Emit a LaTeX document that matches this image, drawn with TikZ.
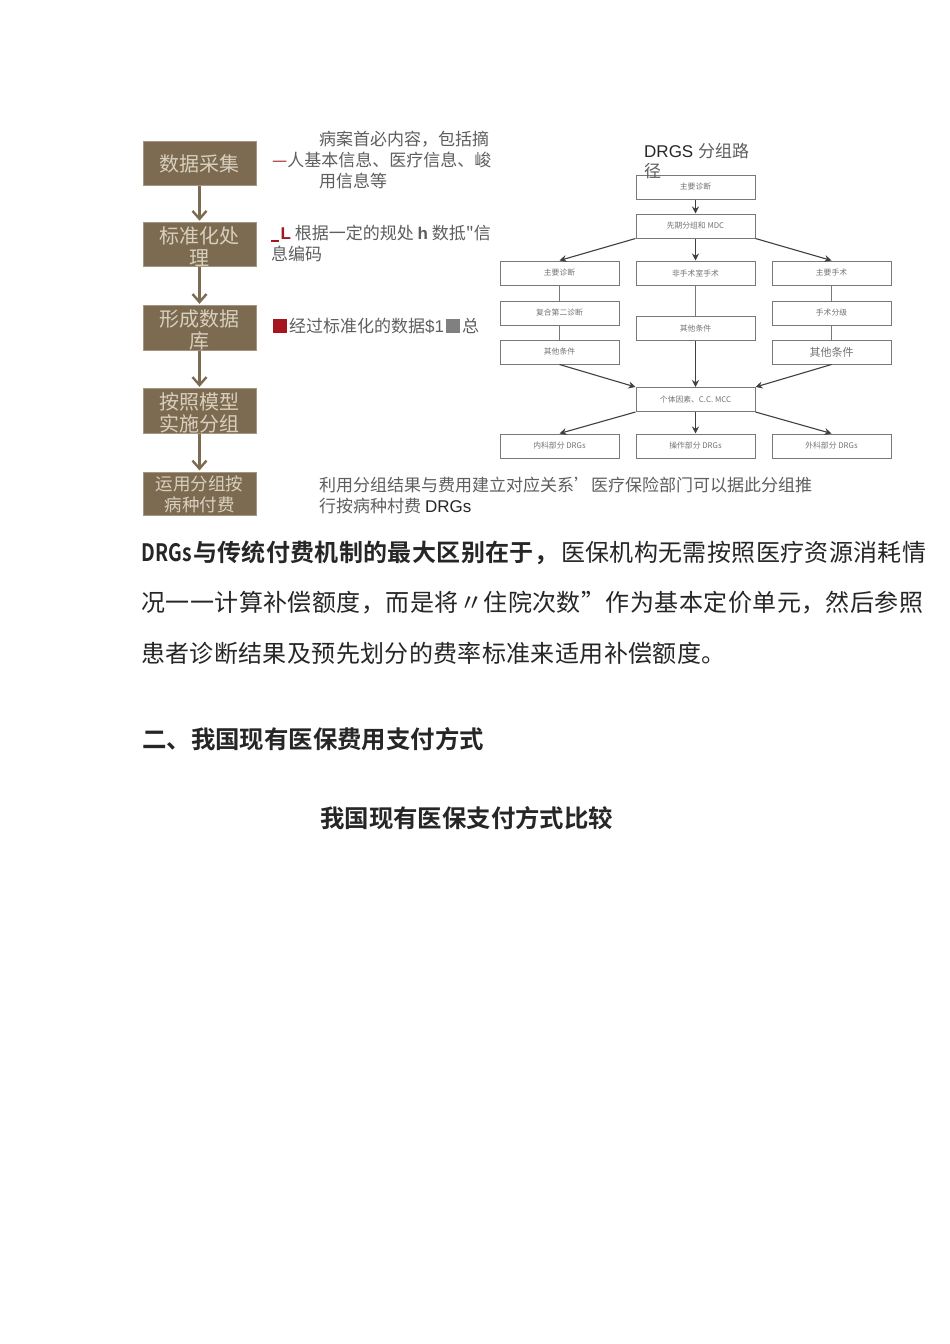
\documentclass[tikz,border=0pt]{standalone}
\usepackage{fontspec}
\usetikzlibrary{arrows.meta}
\setmainfont{Liberation Sans}
\newfontfamily\cjk{Noto Sans CJK SC}
\newfontfamily\cjkb{Noto Sans CJK SC Bold}
\newfontfamily\cjkbody[LetterSpace=1.5]{Noto Sans CJK SC}
\newfontfamily\cjkbodyb[LetterSpace=1.9]{Noto Sans CJK SC}
\newfontfamily\cjkbbody[LetterSpace=1.5]{Noto Sans CJK SC Bold}
\newcommand{\dropline}{\rule{0pt}{21pt}}
\definecolor{brownbox}{HTML}{7C6B50}
\definecolor{boxtext}{HTML}{D8CFBE}
\definecolor{labelgrey}{HTML}{5E5E5E}
\definecolor{darkred}{HTML}{A5161E}
\definecolor{flowline}{HTML}{787878}
\tikzset{
 x=1pt,y=-1pt,
 flowbox/.style={fill=brownbox,draw=brownbox!70!white,line width=0.6pt,minimum width=113pt,minimum height=43.5pt,inner sep=0pt,align=center,text=boxtext,font=\cjk\fontsize{20}{22}\selectfont},
 flowarrow/.style={draw=brownbox,line width=2.2pt,shorten >=1.5pt,-{Straight Barb[length=8pt,width=14pt,line width=2.4pt]}},
 pathbox/.style={draw=flowline,line width=1pt,fill=white,minimum width=119pt,minimum height=24pt,inner sep=0pt,text=black!55,font=\cjk\fontsize{7.8}{9}\selectfont},
 patharrow/.style={draw=black!75,line width=1.1pt,-{Stealth[length=7pt,width=7pt]}},
 pathline/.style={draw=flowline,line width=0.9pt},
 lab/.style={anchor=west,inner sep=0pt,text=labelgrey,font=\cjk\fontsize{17}{20}\selectfont},
 body/.style={anchor=west,inner sep=0pt,text=black!85,font=\cjkbody\fontsize{24}{28}\selectfont},
 head/.style={anchor=west,inner sep=0pt,text=black!85,font=\cjkb\fontsize{24.4}{28}\selectfont},
}
\begin{document}
\begin{tikzpicture}
\useasboundingbox[fill=white] (0,0) rectangle (950,1344);
% left flow
\node[flowbox] (a1) at (199.5,163.5) {数据采集};
\node[flowbox] (a2) at (199.5,244.5) {\dropline 标准化处\\理};
\node[flowbox] (a3) at (199.5,328) {\dropline 形成数据\\库};
\node[flowbox] (a4) at (199.5,411) {\dropline 按照模型\\实施分组};
\node[flowbox,font=\cjk\fontsize{17.5}{21}\selectfont] (a5) at (199.5,494) {运用分组按\\病种付费};
\foreach \p/\q in {a1/a2,a2/a3,a3/a4,a4/a5} \draw[flowarrow] (\p) -- (\q);
% left labels
\node[lab] (l1) at (319,139.5) {病案首必内容，包括摘};
\node[lab] (l2) at (272,160) {\textcolor{darkred}{—}人基本信息、医疗信息、峻};
\node[lab] (l3) at (319,180.5) {用信息等};
\node[lab] (l4) at (271,233.5) {\textcolor{darkred}{\rule[-2pt]{8pt}{1.4pt}\hspace{1.5pt}{\fontspec{Liberation Sans}\textbf{L}}} 根据一定的规处 {\fontspec{Liberation Sans}\textbf{h}} 数抵"信};
\node[lab] (l5) at (271,254) {息编码};
\node[lab] (l6) at (273,326) {\textcolor{darkred}{\rule[-0.5pt]{14pt}{14pt}}\hspace{2pt}经过标准化的数据{\fontspec{Liberation Sans}\$1}\hspace{2pt}\textcolor{gray}{\rule[-0.5pt]{14pt}{14pt}}\hspace{2pt}总};
\node[lab] (l7) at (319,485.5) {利用分组结果与费用建立对应关系’医疗保险部门可以据此分组推};
\node[lab] (l8) at (319,506) {行按病种村费 {\fontspec{Liberation Sans}\color{black!85}DRGs}};
% right chart
\node[pathbox] (b1) at (695.5,187) {主要诊断};
\node[pathbox] (b2) at (695.5,226) {先期分组和 MDC};
\node[pathbox] (c1) at (559.5,273) {主要诊断};
\node[pathbox] (c2) at (695.5,273) {非手术室手术};
\node[pathbox] (c3) at (831.5,273) {主要手术};
\node[pathbox] (d1) at (559.5,313) {复合第二诊断};
\node[pathbox] (d2) at (695.5,328.5) {其他条件};
\node[pathbox] (d3) at (831.5,313) {手术分级};
\node[pathbox] (e1) at (559.5,352) {其他条件};
\node[pathbox,font=\cjk\fontsize{11}{12}\selectfont] (e3) at (831.5,352) {其他条件};
\node[pathbox] (f) at (695.5,399.5) {个体因素、C.C. MCC};
\node[pathbox] (g1) at (559.5,446) {内科部分 DRGs};
\node[pathbox] (g2) at (695.5,446) {操作部分 DRGs};
\node[pathbox] (g3) at (831.5,446) {外科部分 DRGs};
\draw[patharrow] (b1) -- (b2);
\draw[patharrow] (b2.south west) -- (c1.north);
\draw[patharrow] (b2) -- (c2);
\draw[patharrow] (b2.south east) -- (c3.north);
\draw[pathline] (c1) -- (d1);
\draw[pathline] (d1) -- (e1);
\draw[pathline] (c2) -- (d2);
\draw[pathline] (c3) -- (d3);
\draw[pathline] (d3) -- (e3);
\draw[patharrow] (e1.south) -- (f.north west);
\draw[patharrow] (d2) -- (f);
\draw[patharrow] (e3.south) -- (f.north east);
\draw[patharrow] (f.south west) -- (g1.north);
\draw[patharrow] (f) -- (g2);
\draw[patharrow] (f.south east) -- (g3.north);
% chart title (over the chart)
\node[anchor=west,inner sep=0pt,text=black!85,font=\fontsize{17}{20}\selectfont] (t1) at (644,151) {DRGS {\cjk\color{labelgrey}分组路}};
\node[lab] (t2) at (644,171) {径};
% body text
\node[body] (p1) at (141,553) {{\cjkbbody\scalebox{0.8}[1]{DRGs}\hspace{1pt}与传统付费机制的最大区别在于，}\hspace{3pt}医保机构无需按照医疗资源消耗情};
\node[body,font=\cjkbodyb\fontsize{24}{28}\selectfont] (p2) at (141,603) {况一一计算补偿额度，而是将〃住院次数”作为基本定价单元，然后参照};
\node[body] (p3) at (141,653) {患者诊断结果及预先划分的费率标准来适用补偿额度。};
\node[head] (h1) at (142,739) {二、我国现有医保费用支付方式};
\node[head] (h2) at (320,818) {我国现有医保支付方式比较};
\end{tikzpicture}
\end{document}
